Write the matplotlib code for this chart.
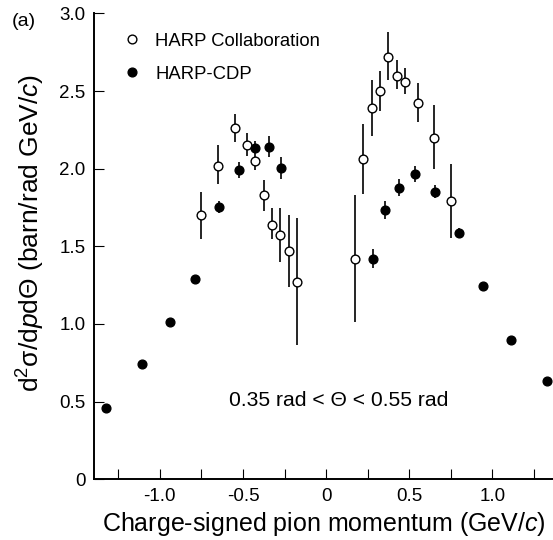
import numpy as np
import matplotlib
matplotlib.use("Agg")
import matplotlib.pyplot as plt

plt.rcParams["font.family"] = ["Liberation Sans", "DejaVu Sans"]
plt.rcParams["mathtext.fontset"] = "custom"
plt.rcParams["mathtext.rm"] = "Liberation Sans"
plt.rcParams["mathtext.it"] = "Liberation Sans:italic"
plt.rcParams["axes.unicode_minus"] = False

# HARP Collaboration (open circles), asymmetric error bars
harp_x = [-0.75, -0.65, -0.55, -0.475, -0.425, -0.375, -0.325, -0.275, -0.225, -0.175,
          0.175, 0.225, 0.275, 0.325, 0.375, 0.425, 0.475, 0.55, 0.65, 0.75]
harp_y = [1.70, 2.02, 2.26, 2.15, 2.05, 1.83, 1.64, 1.57, 1.47, 1.27,
          1.42, 2.06, 2.39, 2.50, 2.72, 2.60, 2.56, 2.42, 2.20, 1.79]
harp_lo = [1.55, 1.90, 2.17, 2.08, 1.99, 1.73, 1.55, 1.40, 1.24, 0.865,
           1.01, 1.835, 2.21, 2.37, 2.57, 2.51, 2.48, 2.30, 2.00, 1.555]
harp_hi = [1.85, 2.15, 2.35, 2.23, 2.08, 1.93, 1.745, 1.745, 1.70, 1.68,
           1.83, 2.29, 2.57, 2.63, 2.88, 2.70, 2.65, 2.55, 2.41, 2.03]

# HARP-CDP (filled circles)
cdp_x = [-1.325, -1.105, -0.94, -0.79, -0.645, -0.525, -0.43, -0.345, -0.27,
         0.28, 0.355, 0.437, 0.535, 0.658, 0.80, 0.946, 1.115, 1.33]
cdp_y = [0.457, 0.744, 1.011, 1.288, 1.751, 1.992, 2.131, 2.142, 2.005,
         1.42, 1.734, 1.876, 1.966, 1.852, 1.584, 1.245, 0.897, 0.633]
cdp_err = [0.01, 0.01, 0.01, 0.01, 0.038, 0.05, 0.05, 0.067, 0.07,
           0.06, 0.06, 0.055, 0.053, 0.042, 0.033, 0.01, 0.01, 0.01]

xticks = [-1.0, -0.5, 0, 0.5, 1.0]
xticklabels = ["-1.0", "-0.5", "0", "0.5", "1.0"]
xminor = [-1.25, -0.75, -0.25, 0.25, 0.75, 1.25]
yticks = [0, 0.5, 1.0, 1.5, 2.0, 2.5, 3.0]
yticklabels = ["0", "0.5", "1.0", "1.5", "2.0", "2.5", "3.0"]

fig = plt.figure(figsize=(5.53, 5.40), dpi=100)
ax = fig.add_axes([0.170, 0.1124, 0.830, 0.8628])

harp_y = np.array(harp_y)
yerr_harp = [harp_y - np.array(harp_lo), np.array(harp_hi) - harp_y]

ax.errorbar(harp_x, harp_y, yerr=yerr_harp, fmt="none", ecolor="black",
            elinewidth=1.2, capsize=0, zorder=2)
ax.errorbar(cdp_x, cdp_y, yerr=cdp_err, fmt="none", ecolor="black",
            elinewidth=1.2, capsize=0, zorder=2)
ax.plot(harp_x, harp_y, "o", ms=6.3, mfc="white", mec="black", mew=1.0,
        label="HARP Collaboration", zorder=3, clip_on=False)
ax.plot(cdp_x, cdp_y, "o", ms=6.3, mfc="black", mec="black", mew=1.0,
        label="HARP-CDP", zorder=3, clip_on=False)

ax.set_xlim(-1.396, 1.365)
ax.set_ylim(0, 3.0)

for s in ["top", "right"]:
    ax.spines[s].set_visible(False)
for s in ["left", "bottom"]:
    ax.spines[s].set_linewidth(1.4)

ax.set_xticks(xticks)
ax.set_xticklabels(xticklabels)
ax.set_xticks(xminor, minor=True)
ax.set_yticks(yticks)
ax.set_yticklabels(yticklabels)
ax.tick_params(which="both", direction="in", length=7.5, width=0.8,
               labelsize=13.5, pad=6)

ax.set_xlabel("Charge-signed pion momentum (GeV/$c$)", fontsize=18, labelpad=4)
ax.set_ylabel(r"d$^2$σ/d$p$dΘ (barn/rad GeV/$c$)", fontsize=19)
ax.yaxis.set_label_coords(-0.103, 0.528)

ax.text(0.075, 0.51, "0.35 rad < Θ < 0.55 rad", fontsize=15.2,
        ha="center", va="center")

ax.legend(loc="upper left", bbox_to_anchor=(0.222, 0.939),
          bbox_transform=fig.transFigure, frameon=False, fontsize=13.3,
          numpoints=1, handlelength=1.0, handletextpad=0.75,
          labelspacing=0.86, borderpad=0, borderaxespad=0)

fig.text(0.022, 1 - 22 / 540, "(a)", fontsize=14, ha="left", va="center")

fig.savefig("out.png", dpi=100)
